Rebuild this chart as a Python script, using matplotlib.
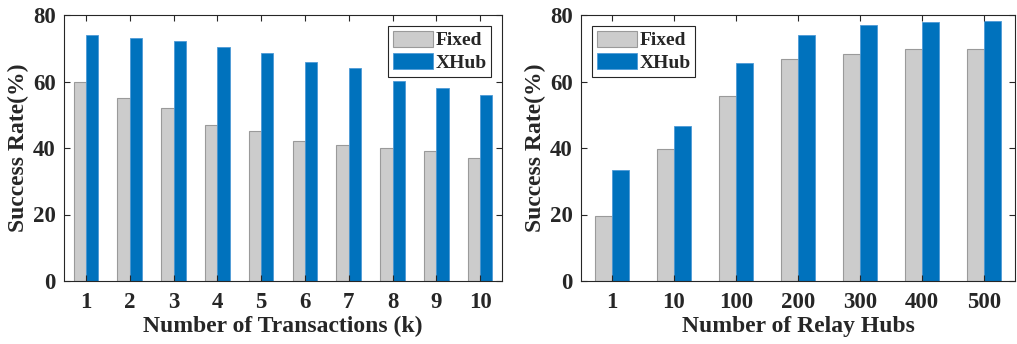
import numpy as np
import matplotlib.pyplot as plt

# left panel
trans_labels = ['1', '2', '3', '4', '5', '6', '7', '8', '9', '10']
trans_fixed = [60, 55, 52, 47, 45, 42, 41, 40, 39, 37]
trans_xhub = [74.1, 73.2, 72.1, 70.4, 68.6, 65.8, 64.1, 60.3, 57.9, 55.9]

# right panel
hub_labels = ['1', '10', '100', '200', '300', '400', '500']
hub_fixed = [19.5, 39.6, 55.5, 66.7, 68.4, 69.7, 69.9]
hub_xhub = [33.5, 46.5, 65.6, 74.1, 77.1, 77.8, 78.2]

GRAY = '#cccccc'
BLUE = '#0072bd'
DARK = '#262626'

plt.rcParams['font.family'] = ['Liberation Serif', 'DejaVu Serif']
plt.rcParams['font.weight'] = 'bold'
plt.rcParams['axes.labelweight'] = 'bold'

fig = plt.figure(figsize=(10.17, 3.44), dpi=100)
ax1 = fig.add_axes([64 / 1017, 1 - 281 / 344, 438 / 1017, 266 / 344])
ax2 = fig.add_axes([581 / 1017, 1 - 281 / 344, 434 / 1017, 266 / 344])


def draw(ax, labels, fixed, xhub, xlabel, legend_loc):
    x = np.arange(1, len(labels) + 1)
    w = 0.28
    ax.bar(x - 0.14, fixed, w, color=GRAY, edgecolor='#9a9a9a', linewidth=0.8, label='Fixed')
    ax.bar(x + 0.14, xhub, w, color=BLUE, edgecolor='#4d9ad6', linewidth=0.6, label='XHub')
    ax.set_xlim(0.5, len(labels) + 0.5)
    ax.set_ylim(0, 80)
    ax.set_xticks(x)
    ax.set_xticklabels(labels)
    ax.set_yticks([0, 20, 40, 60, 80])
    ax.tick_params(direction='in', top=True, right=True, length=4, width=0.8,
                   colors=DARK, labelsize=16.5)
    ax.tick_params(axis='x', pad=8)
    ax.tick_params(axis='y', pad=6)
    for s in ax.spines.values():
        s.set_color(DARK)
        s.set_linewidth(0.8)
    ax.set_xlabel(xlabel, fontsize=17, color=DARK, labelpad=2)
    ax.set_ylabel('Success Rate(%)', fontsize=17, color=DARK, labelpad=3)
    leg = ax.legend(loc=legend_loc, fontsize=14, fancybox=False, framealpha=1,
                    handlelength=2.1, handleheight=0.9, handletextpad=0.1,
                    borderpad=0.25, labelspacing=0.2, borderaxespad=0.55)
    leg.get_frame().set_edgecolor(DARK)
    leg.get_frame().set_linewidth(0.8)
    for t in leg.get_texts():
        t.set_color(DARK)


draw(ax1, trans_labels, trans_fixed, trans_xhub, 'Number of Transactions (k)', 'upper right')
draw(ax2, hub_labels, hub_fixed, hub_xhub, 'Number of Relay Hubs', 'upper left')

fig.savefig('out.png', dpi=100)
